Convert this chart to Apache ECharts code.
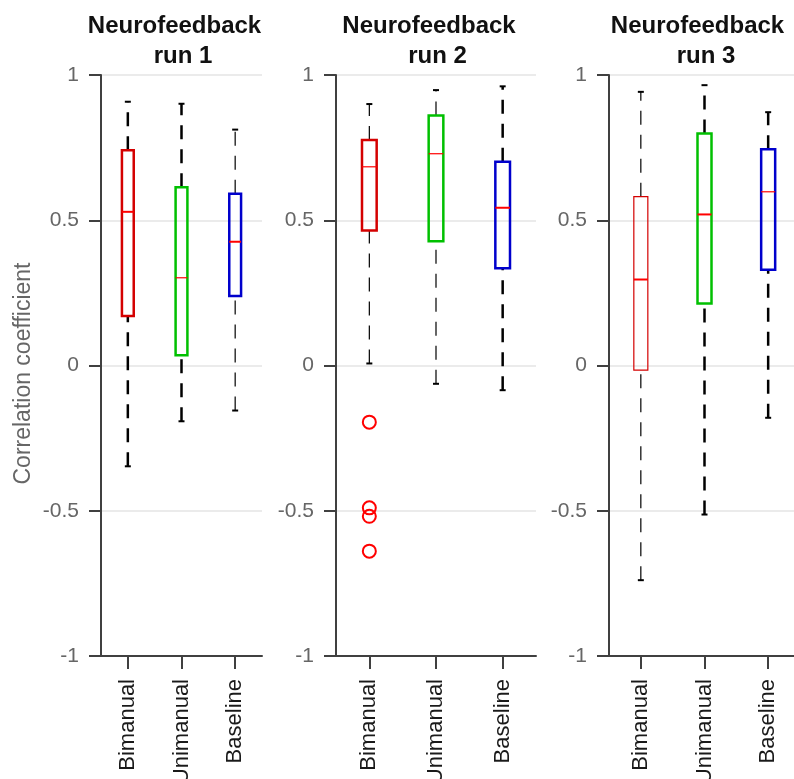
<!DOCTYPE html>
<html><head><meta charset="utf-8">
<script src="https://cdn.jsdelivr.net/npm/echarts@6/dist/echarts.min.js"></script>
<style>html,body{margin:0;padding:0;background:#fff}#chart{width:794px;height:779px}</style>
</head><body><div id="chart"></div>
<script>
// ---- data ----
const categories = ['Bimanual', 'Unimanual', 'Baseline'];
const titleMain = 'Neurofeedback';
const runTitles = ['run 1', 'run 2', 'run 3'];
const yAxisName = 'Correlation coefficient';
// each row: [lower whisker, Q1, median, Q3, upper whisker]
const run1Stats = [
  [-0.347, 0.170, 0.529, 0.741, 0.908],
  [-0.192, 0.035, 0.302, 0.614, 0.901],
  [-0.155, 0.239, 0.426, 0.591, 0.812]
];
const run2Stats = [
  [0.007, 0.465, 0.684, 0.776, 0.900],
  [-0.063, 0.428, 0.729, 0.861, 0.948],
  [-0.085, 0.335, 0.543, 0.701, 0.961]
];
const run3Stats = [
  [-0.739, -0.016, 0.296, 0.581, 0.942],
  [-0.513, 0.213, 0.520, 0.799, 0.965],
  [-0.180, 0.330, 0.598, 0.744, 0.872]
];
const run2BimanualOutliers = [-0.195, -0.490, -0.519, -0.639];

// ---- styles ----
const FONT = '"Liberation Sans", Arial, Helvetica, sans-serif';
const boxColors = ['#d40000', '#00c000', '#0000cc'];
const medianColor = '#ff0000';
// per run, per category: [box width, median width, whisker width]
const lineWidths = [
  [[2.5, 2, 2.5], [2.5, 1.2, 2.5], [2.5, 2, 1.2]],
  [[2.5, 1.2, 1.2], [2.5, 1.2, 1.2], [2.5, 2, 2.5]],
  [[1.2, 2, 1.2], [2.5, 2, 2.5], [2.5, 1.2, 2.5]]
];
const grids = [
  { left: 101, top: 75, width: 161, height: 581, outerBoundsMode: 'none', containLabel: false },
  { left: 336, top: 75, width: 200, height: 581, outerBoundsMode: 'none', containLabel: false },
  { left: 609, top: 75, width: 191, height: 581, outerBoundsMode: 'none', containLabel: false }
];
const allStats = [run1Stats, run2Stats, run3Stats];

function makeRender(run) {
  return function (params, api) {
    const ci = api.value(0);
    const lo = api.value(1), q1 = api.value(2), med = api.value(3), q3 = api.value(4), hi = api.value(5);
    const x = api.coord([ci, med])[0];
    const y = v => api.coord([ci, v])[1];
    const bw = api.size([1, 0])[0] * 0.22;
    const lw = lineWidths[run][ci];
    const dash = [14, 10];
    const ch = [];
    ch.push({ type: 'line', shape: { x1: x, y1: y(lo), x2: x, y2: y(q1) },
      style: { stroke: '#000', lineWidth: lw[2], lineDash: dash } });
    ch.push({ type: 'line', shape: { x1: x, y1: y(q3), x2: x, y2: y(hi) },
      style: { stroke: '#000', lineWidth: lw[2], lineDash: dash } });
    ch.push({ type: 'line', shape: { x1: x - 3, y1: y(lo), x2: x + 3, y2: y(lo) },
      style: { stroke: '#000', lineWidth: 2 } });
    ch.push({ type: 'line', shape: { x1: x - 3, y1: y(hi), x2: x + 3, y2: y(hi) },
      style: { stroke: '#000', lineWidth: 2 } });
    ch.push({ type: 'rect', shape: { x: x - bw / 2, y: y(q3), width: bw, height: y(q1) - y(q3) },
      style: { fill: 'transparent', stroke: boxColors[ci], lineWidth: lw[0] } });
    ch.push({ type: 'line', shape: { x1: x - bw / 2, y1: y(med), x2: x + bw / 2, y2: y(med) },
      style: { stroke: medianColor, lineWidth: lw[1] } });
    return { type: 'group', children: ch };
  };
}

const chart = echarts.init(document.getElementById('chart'), null, { renderer: 'canvas' });
const axisColor = '#404040';
const option = {
  animation: false,
  backgroundColor: '#fff',
  grid: grids,
  xAxis: grids.map((g, i) => ({
    type: 'category', gridIndex: i, data: categories, boundaryGap: true,
    axisLine: { show: true, onZero: false, lineStyle: { color: axisColor, width: 2 } },
    axisTick: { show: true, alignWithLabel: true, length: 13, lineStyle: { color: axisColor, width: 2 } },
    axisLabel: { rotate: 90, fontSize: 22, color: '#1a1a1a', margin: 23, fontFamily: FONT },
    splitLine: { show: false }
  })),
  yAxis: grids.map((g, i) => ({
    type: 'value', gridIndex: i, min: -1, max: 1, interval: 0.5,
    name: i === 0 ? yAxisName : '',
    nameLocation: 'middle', nameGap: 66,
    nameTextStyle: { fontSize: 23, color: '#666', fontFamily: FONT, padding: [0, 16, 0, 0] },
    axisLine: { show: true, lineStyle: { color: axisColor, width: 2 } },
    axisTick: { show: true, inside: false, length: 12, lineStyle: { color: axisColor, width: 2 } },
    axisLabel: { fontSize: 21, color: '#666', margin: 22, fontFamily: FONT },
    splitLine: { show: true, lineStyle: { color: '#e4e4e4', width: 1.5 } }
  })),
  series: allStats.map((stats, i) => ({
    type: 'custom', xAxisIndex: i, yAxisIndex: i,
    renderItem: makeRender(i),
    encode: { x: 0, y: [1, 2, 3, 4, 5] },
    data: stats.map((s, ci) => [ci].concat(s)),
    z: 3
  })).concat([{
    type: 'scatter', xAxisIndex: 1, yAxisIndex: 1,
    data: run2BimanualOutliers.map(v => [categories[0], v]),
    symbol: 'circle', symbolSize: 13,
    itemStyle: { color: 'transparent', borderColor: '#ff0000', borderWidth: 2, opacity: 1 },
    z: 4
  }]),
  graphic: grids.flatMap((g, i) => {
    const cx = g.left + g.width / 2;
    const base = { fill: '#111', font: 'bold 24px ' + FONT, align: 'center', verticalAlign: 'middle',
      textAlign: 'center', textVerticalAlign: 'middle' };
    return [
      { type: 'text', x: cx - 7, y: 26, style: Object.assign({ text: titleMain }, base) },
      { type: 'text', x: cx + 1.5, y: 56, style: Object.assign({ text: runTitles[i] }, base) }
    ];
  })
};
chart.setOption(option);
</script>
</body></html>
